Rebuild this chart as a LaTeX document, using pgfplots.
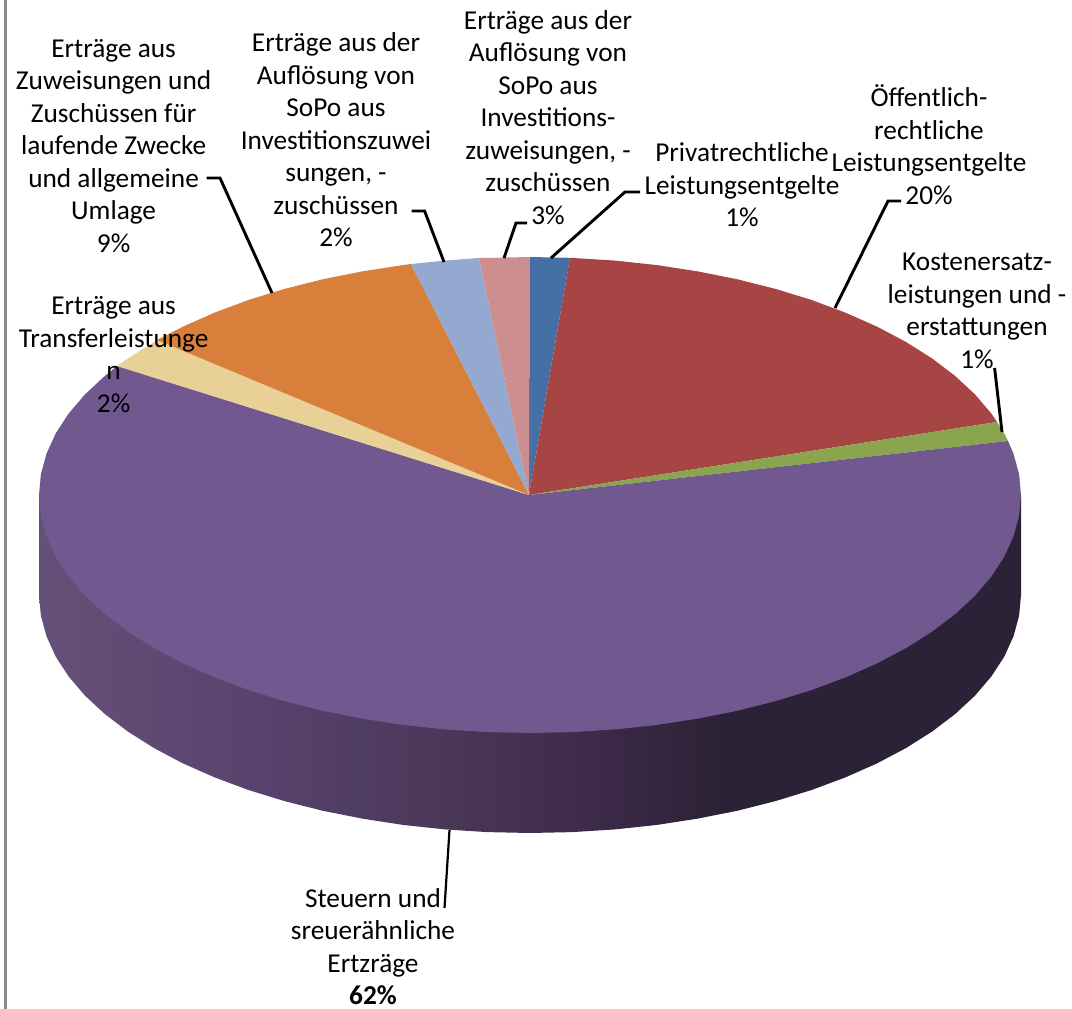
\documentclass[border=0pt]{standalone}
\usepackage{fontspec}
\setmainfont{Carlito}
\usepackage{pgfplots}
\pgfplotsset{compat=1.18}

% Slice colours
\definecolor{sliceBlue}{HTML}{4470A6}
\definecolor{sliceRed}{HTML}{A64543}
\definecolor{sliceGreen}{HTML}{89A54E}
\definecolor{slicePurple}{HTML}{71588F}
\definecolor{sliceTan}{HTML}{E8D096}
\definecolor{sliceOrange}{HTML}{D8803B}
\definecolor{sliceSky}{HTML}{93A9CF}
\definecolor{slicePink}{HTML}{CC8E8E}
\definecolor{rimA}{HTML}{655079}
\definecolor{rimB}{HTML}{56426C}
\definecolor{rimC}{HTML}{4A3758}
\definecolor{rimD}{HTML}{3E2A4A}
\definecolor{rimE}{HTML}{2C2237}
\definecolor{frameGray}{HTML}{8C8C8C}

% Rim of the pie: lit on the left, falling into shadow on the right
\pgfdeclarehorizontalshading{rimshade}{100bp}{
  color(0bp)=(rimA); color(25bp)=(rimA); color(36.9bp)=(rimB);
  color(46bp)=(rimC); color(53bp)=(rimD); color(59.5bp)=(rimE);
  color(75bp)=(rimE); color(100bp)=(rimE)}

\newcommand{\lbl}[3]{\node[align=center,inner sep=0pt,text=black,
  font=\fontsize{27.3}{32.5}\selectfont] at (axis cs:#1,#2) {#3};}

\begin{document}
\begin{tikzpicture}
\useasboundingbox (0,0) rectangle (1072pt,1009pt);
\begin{axis}[
  at={(0,0)}, anchor=south west,
  width=1072pt, height=1009pt, scale only axis,
  xmin=0, xmax=1072, ymin=0, ymax=1009, y dir=reverse,
  axis lines=none, clip=false]

% frame rule on the left
\addplot[frameGray, line width=3pt] coordinates {(5.5,0) (5.5,1009)};

% rim
\addplot[draw=none, shading=rimshade] coordinates {
 (1021,495)(1021,595)(1019.1,615.8)(1013.5,636.3)(1004.3,656.6)(991.4,676.4)(975,695.6)(955.2,714)
 (932.2,731.5)(906.1,748)(877.2,763.3)(845.6,777.3)(811.6,790)(775.5,801.1)(737.5,810.7)(697.9,818.6)
 (657.1,824.9)(615.2,829.4)(572.8,832.1)(530,833)(487.2,832.1)(444.8,829.4)(402.9,824.9)(362.1,818.6)
 (322.5,810.7)(284.5,801.1)(248.4,790)(214.4,777.3)(182.8,763.3)(153.9,748)(127.8,731.5)(104.8,714)
 (85,695.6)(68.6,676.4)(55.7,656.6)(46.5,636.3)(40.9,615.8)(39,595)(39,495)} -- cycle;

% top face, clockwise from twelve o'clock
\addplot[draw=none, fill=sliceBlue] coordinates {(529,495)(529.5,257)(570,257.8)} -- cycle;
\addplot[draw=none, fill=sliceRed] coordinates {
 (529,495)(570,257.8)(615.2,260.6)(657.1,265.1)(697.9,271.4)(737.5,279.3)(775.5,288.9)(811.6,300)
 (845.6,312.7)(877.2,326.7)(906.1,342)(932.2,358.5)(955.2,376)(975,394.4)(991.4,413.6)(997,422)} -- cycle;
\addplot[draw=none, fill=sliceGreen] coordinates {(529,495)(997,422)(1004.3,433.4)(1008,441)} -- cycle;
\addplot[draw=none, fill=slicePurple] coordinates {
 (529,495)(1008,441)(1013.5,453.7)(1019.1,474.2)(1021,495)(1019.1,515.8)(1013.5,536.3)(1004.3,556.6)
 (991.4,576.4)(975,595.6)(955.2,614)(932.2,631.5)(906.1,648)(877.2,663.3)(845.6,677.3)(811.6,690)
 (775.5,701.1)(737.5,710.7)(697.9,718.6)(657.1,724.9)(615.2,729.4)(572.8,732.1)(530,733)(487.2,732.1)
 (444.8,729.4)(402.9,724.9)(362.1,718.6)(322.5,710.7)(284.5,701.1)(248.4,690)(214.4,677.3)(182.8,663.3)
 (153.9,648)(127.8,631.5)(104.8,614)(85,595.6)(68.6,576.4)(55.7,556.6)(46.5,536.3)(40.9,515.8)(39,495)
 (40.9,474.2)(46.5,453.7)(55.7,433.4)(68.6,413.6)(85,394.4)(104.8,376)(117,366)} -- cycle;
\addplot[draw=none, fill=sliceTan] coordinates {(529,495)(117,366)(127.8,358.5)(153.9,342)(157,340)} -- cycle;
\addplot[draw=none, fill=sliceOrange] coordinates {
 (529,495)(157,340)(182.8,326.7)(214.4,312.7)(248.4,300)(284.5,288.9)(322.5,279.3)(362.1,271.4)
 (402.9,265.1)(411,264)} -- cycle;
\addplot[draw=none, fill=sliceSky] coordinates {(529,495)(411,264)(444.8,260.6)(479,258)} -- cycle;
\addplot[draw=none, fill=slicePink] coordinates {(529,495)(479,258)(487.2,257.9)(529.5,257)} -- cycle;

% leader lines
\addplot[black, line width=2.9pt] coordinates {(640,192)(625,192)(551,258)};
\addplot[black, line width=2.9pt] coordinates {(901,201)(888,201)(835,308)};
\addplot[black, line width=2.9pt] coordinates {(994.6,368)(1002,432)};
\addplot[black, line width=2.2pt] coordinates {(449.5,830)(444.5,908)};
\addplot[black, line width=2.9pt] coordinates {(527,223)(516,223)(504,258)};
\addplot[black, line width=2.9pt] coordinates {(411.5,211)(424.6,211)(444,262)};
\addplot[black, line width=2.9pt] coordinates {(206.6,178)(220,178)(272,293)};

% slice captions
\lbl{113.6}{146}{Erträge aus\\Zuweisungen und\\Zuschüssen für\\laufende Zwecke\\und allgemeine\\Umlage\\9\%}
\lbl{336}{140}{Erträge aus der\\Auflösung von\\SoPo aus\\Investitionszuwei\\sungen, -\\zuschüssen\\2\%}
\lbl{548}{117.5}{Erträge aus der\\Auflösung von\\SoPo aus\\Investitions-\\zuweisungen, -\\zuschüssen\\3\%}
\lbl{742}{185}{Privatrechtliche\\Leistungsentgelte\\1\%}
\lbl{929}{144.5}{Öffentlich-\\rechtliche\\Leistungsentgelte\\20\%}
\lbl{977}{311}{Kostenersatz-\\leistungen und -\\erstattungen\\1\%}
\lbl{113.6}{354.5}{Erträge aus\\Transferleistunge\\n\\2\%}
\lbl{373}{946.5}{Steuern und\\sreuerähnliche\\Ertzräge\\\textbf{62\%}}
\end{axis}
\end{tikzpicture}
\end{document}
